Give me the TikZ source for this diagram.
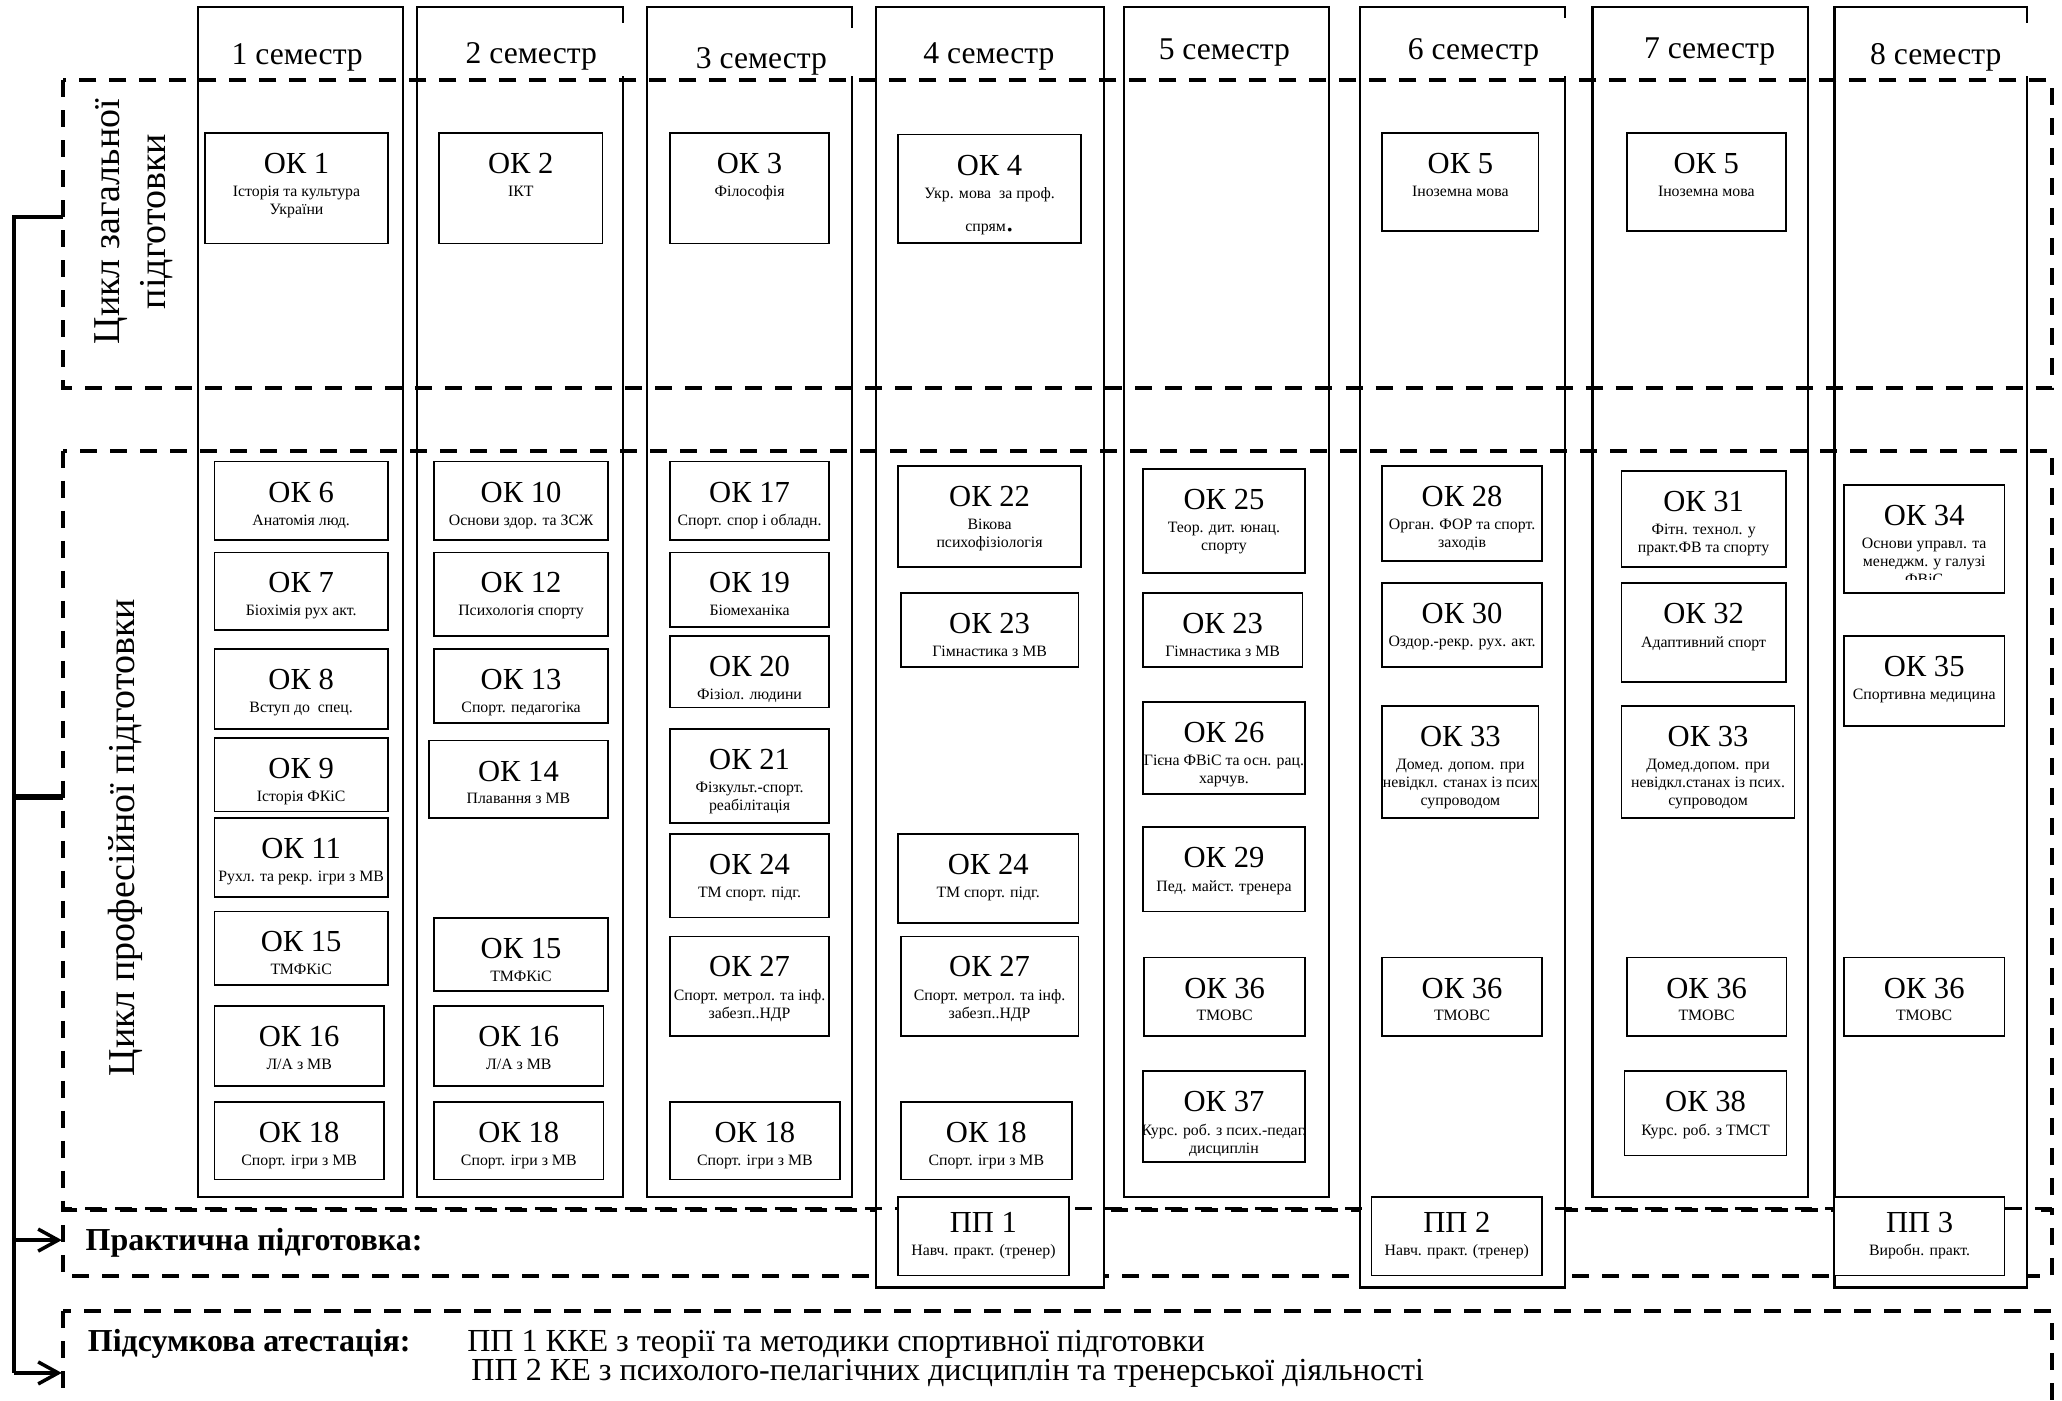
\documentclass[tikz,border=0pt]{standalone}
\usepackage{fontspec}
\setmainfont{Liberation Serif}
\usetikzlibrary{arrows.meta,positioning,calc}

\newcommand{\semfont}{\fontsize{9}{10}\selectfont}
\newcommand{\atfont}{\fontsize{9.13}{10}\selectfont}
\newcommand{\okfont}{\fontsize{8.7}{10}\selectfont}
\newcommand{\subfont}{\fontsize{4.5}{5.1}\selectfont}
\newcommand{\cycfont}{\fontsize{10.8}{13}\selectfont}
\newcommand{\boldfont}{\fontsize{9.1}{11}\selectfont\bfseries}

\tikzset{
  semcol/.style={draw, line width=0.6pt, fill=white},
  okframe/.style={draw, line width=0.45pt, fill=white},
  cycbox/.style={draw, line width=1.1pt, dash pattern=on 1.7mm off 1.3mm},
  oklabel/.style={anchor=base, inner sep=0pt, font=\okfont},
  oksub/.style={anchor=north, inner sep=0pt, align=center, font=\subfont},
  semlabel/.style={anchor=base, inner sep=0pt, font=\semfont},
  cyclabel/.style={anchor=base, inner sep=0pt, rotate=90, font=\cycfont},
  bracket/.style={line width=1pt},
  brarrow/.style={line width=1pt, -{Straight Barb[length=2mm,width=2.2mm]}},
}

% discipline box: [label offset] name, x1, y1, x2, y2, label, text
\newcommand{\okbox}[8][30.9]{%
  \draw[okframe] (#3,#4) rectangle (#5,#6);
  \node[oklabel] (#2) at ({(#3+#5)/2},{#4+#1}) {#7};
  \node[oksub] (#2t) at ({(#3+#5)/2},{#4+#1+8.9}) {#8};
}

\begin{document}
\begin{tikzpicture}[x=0.1315mm, y=-0.1315mm]
    \useasboundingbox (0,0) rectangle (1568,1064.6);
    \clip (0,0) rectangle (1568,1064.6);
    \fill[white] (0,0) rectangle (1568,1064.6);

    % Practical and final boxes (under the columns)
    \draw[cycbox, dash phase=1.5mm] (48,920) rectangle (1560.5,970);
    \draw[cycbox] (48,997) rectangle (1560.5,1130);

    % Semester columns
    \foreach \xa/\xb/\yb in {150.5/306.3/910, 317/473.6/910, 492/648/910,
        666/839.5/979, 855/1010.6/910, 1034/1190/979, 1211/1375/910, 1395/1541.5/979}
        \draw[semcol] (\xa,5) rectangle (\xb,\yb);
    % gaps left by the heading boxes
    \foreach \x/\ya in {473.6/17.7, 648/21.5, 1190/14, 1541.5/17.7}
        \fill[white] (\x-1.5,\ya) rectangle (\x+1.5,58);

    \foreach \x/\y/\n in {226/49.4/1, 404/48.2/2, 579/52/3, 752/48.2/4,
        931/45.6/5, 1120.5/45.6/6, 1300/44.4/7, 1472/49.4/8}
        \node[semlabel] (sem\n) at (\x,\y) {\n{} семестр};

    % Cycle boxes
    \draw[cycbox] (48,61) rectangle (1560.5,295);
    \draw[cycbox] (48,342.7) rectangle (1560.5,919);

    \node[cyclabel] (gencyc) at (90.5,168.5) {Цикл загальної};
    \node[cyclabel] (gencyc2) at (125.6,168.5) {підготовки};
    \node[cyclabel] (profcyc) at (102,637) {Цикл професійної підготовки};

    % Semester 1
    \okbox{ok1s1}{156}{101}{295}{185}{ОК 1}{Історія та культура\\України}
    \okbox{ok6s1}{163}{351}{295}{410.6}{ОК 6}{Анатомія люд.}
    \okbox{ok7s1}{163}{420}{295}{479}{ОК 7}{Біохімія рух акт.}
    \okbox{ok8s1}{163}{493.5}{295}{554.5}{ОК 8}{Вступ до\ \ спец.}
    \okbox{ok9s1}{163}{561}{295}{617}{ОК 9}{Історія ФКіС}
    \okbox{ok11s1}{163}{622}{295}{682}{ОК 11}{Рухл. та рекр. ігри з МВ}
    \okbox{ok15s1}{163}{693}{295}{749}{ОК 15}{ТМФКіС}
    \okbox{ok16s1}{163}{765}{292}{826}{ОК 16}{Л/А з МВ}
    \okbox{ok18s1}{163}{838}{292}{897}{ОК 18}{Спорт. ігри з МВ}

    % Semester 2
    \okbox{ok2s2}{334}{101}{458}{185}{ОК 2}{ІКТ}
    \okbox{ok10s2}{330}{351}{462.5}{410.6}{ОК 10}{Основи здор. та ЗСЖ}
    \okbox{ok12s2}{330}{420}{462.5}{483.6}{ОК 12}{Психологія спорту}
    \okbox{ok13s2}{330}{493.5}{462.5}{549.6}{ОК 13}{Спорт. педагогіка}
    \okbox{ok14s2}{326}{563}{462.5}{622}{ОК 14}{Плавання з МВ}
    \okbox{ok15s2}{330}{698}{462.5}{753.6}{ОК 15}{ТМФКіС}
    \okbox{ok16s2}{330}{765}{459}{826}{ОК 16}{Л/А з МВ}
    \okbox{ok18s2}{330}{838}{459}{897}{ОК 18}{Спорт. ігри з МВ}

    % Semester 3
    \okbox{ok3s3}{509.5}{101}{630.5}{185}{ОК 3}{Філософія}
    \okbox{ok17s3}{509.5}{351}{630.5}{410.6}{ОК 17}{Спорт. спор і обладн.}
    \okbox{ok19s3}{509.5}{420}{630.5}{476.6}{ОК 19}{Біомеханіка}
    \okbox{ok20s3}{509.5}{483.6}{630.5}{538}{ОК 20}{Фізіол. людини}
    \okbox{ok21s3}{509.5}{554.4}{630.5}{625.6}{ОК 21}{Фізкульт.-спорт.\\реабілітація}
    \okbox{ok24s3}{509.5}{634}{630.5}{697.8}{ОК 24}{ТМ спорт. підг.}
    \okbox{ok27s3}{509.5}{712}{630.5}{788}{ОК 27}{Спорт. метрол. та інф.\\забезп..НДР}
    \okbox{ok18s3}{509.5}{838}{638.6}{897}{ОК 18}{Спорт. ігри з МВ}

    % Semester 4
    \okbox{ok4s4}{683}{102.4}{822}{184.6}{ОК 4}{Укр. мова\ \ за проф.\\[4.3pt]спрям{\fontsize{9}{9}\selectfont.}}
    \okbox{ok22s4}{683}{354.4}{822}{431}{ОК 22}{Вікова\\психофізіологія}
    \okbox{ok23s4}{685}{450.7}{820}{507}{ОК 23}{Гімнастика з МВ}
    \okbox{ok24s4}{683}{634}{820}{701.7}{ОК 24}{ТМ спорт. підг.}
    \okbox{ok27s4}{685}{712}{820}{788}{ОК 27}{Спорт. метрол. та інф.\\забезп..НДР}
    \okbox{ok18s4}{685}{838}{815}{897}{ОК 18}{Спорт. ігри з МВ}
    \okbox[27]{pp1}{683}{910}{812.7}{970}{ПП 1}{Навч. практ. (тренер)}

    % Semester 5
    \okbox{ok25s5}{869}{356.7}{992.5}{435.9}{ОК 25}{Теор. дит. юнац.\\спорту}
    \okbox{ok23s5}{869}{450.7}{990.5}{507}{ОК 23}{Гімнастика з МВ}
    \okbox{ok26s5}{869}{534}{992.5}{603.8}{ОК 26}{Гієна ФВіС та осн. рац.\\харчув.}
    \okbox{ok29s5}{869}{629}{992.5}{693}{ОК 29}{Пед. майст. тренера}
    \okbox{ok36s5}{870}{728}{992.5}{788}{ОК 36}{ТМОВС}
    \okbox{ok37s5}{869}{814.5}{992.5}{883.4}{ОК 37}{Курс. роб. з псих.-педаг.\\дисциплін}

    % Semester 6
    \okbox{ok5s6}{1051}{101}{1170}{175.5}{ОК 5}{Іноземна мова}
    \okbox{ok28s6}{1051}{354.4}{1172.6}{426.6}{ОК 28}{Орган. ФОР та спорт.\\заходів}
    \okbox{ok30s6}{1051}{443.5}{1172.6}{507}{ОК 30}{Оздор.-рекр. рух. акт.}
    \okbox{ok33s6}{1051}{537}{1170}{622}{ОК 33}{Домед. допом. при\\невідкл. станах із псих\\супроводом}
    \okbox{ok36s6}{1051}{728}{1172.6}{788}{ОК 36}{ТМОВС}
    \okbox[27]{pp2}{1043}{910}{1172.6}{970}{ПП 2}{Навч. практ. (тренер)}

    % Semester 7
    \okbox{ok5s7}{1237}{101}{1358}{175.5}{ОК 5}{Іноземна мова}
    \okbox{ok31s7}{1233}{358}{1358}{431}{ОК 31}{Фітн. технол. у\\практ.ФВ та спорту}
    \okbox{ok32s7}{1233}{443.5}{1358}{518.4}{ОК 32}{Адаптивний спорт}
    \okbox{ok33s7}{1233}{537}{1364.7}{622}{ОК 33}{Домед.допом. при\\невідкл.станах із псих.\\супроводом}
    \okbox{ok36s7}{1237}{728}{1358.5}{788}{ОК 36}{ТМОВС}
    \okbox{ok38s7}{1235.4}{814.5}{1358.5}{878.7}{ОК 38}{Курс. роб. з ТМСТ}

    % Semester 8
    \okbox{ok34s8}{1402}{368.8}{1524.4}{451}{ОК 34}{Основи управл. та\\менеджм. у галузі\\ФВіС}
    \fill[white] (1430,441) rectangle (1496,450);
    \okbox{ok35s8}{1402}{483.6}{1524.4}{552}{ОК 35}{Спортивна медицина}
    \okbox{ok36s8}{1402}{728}{1524.4}{788}{ОК 36}{ТМОВС}
    \okbox[27]{pp3}{1395}{910}{1524.4}{970}{ПП 3}{Виробн. практ.}

    % Practical and final texts
    \node[anchor=base west, inner sep=0pt, font=\boldfont] (prak) at (64.6,951) {Практична підготовка:};
    \node[anchor=base west, inner sep=0pt, font=\boldfont] (atest) at (66.3,1027.6) {Підсумкова атестація:};
    \node[anchor=base west, inner sep=0pt, font=\atfont] (atest1) at (354.8,1027.6)
        {ПП 1 ККЕ з теорії та методики спортивної підготовки};
    \node[anchor=base west, inner sep=0pt, font=\atfont] (atest2) at (358,1050)
        {ПП 2 КЕ з психолого-пелагічних дисциплін та тренерської діяльності};

    % Bracket
    \coordinate (brtop) at (10.6,165);
    \coordinate (brmid) at (10.6,605.8);
    \coordinate (brprak) at (10.6,943);
    \coordinate (brfin) at (10.6,1044);
    \coordinate (gentick) at (48,165);
    \coordinate (proftick) at (48,605.8);
    \coordinate (prakin) at (47,943);
    \coordinate (finin) at (47,1044);
    \draw[bracket] (gentick) -- (brtop) -- (brfin);
    \draw[line width=1.7pt] (brmid) -- (proftick);
    \draw[brarrow] (brprak) -- (prakin);
    \draw[brarrow] (brfin) -- (finin);
\end{tikzpicture}
\end{document}
